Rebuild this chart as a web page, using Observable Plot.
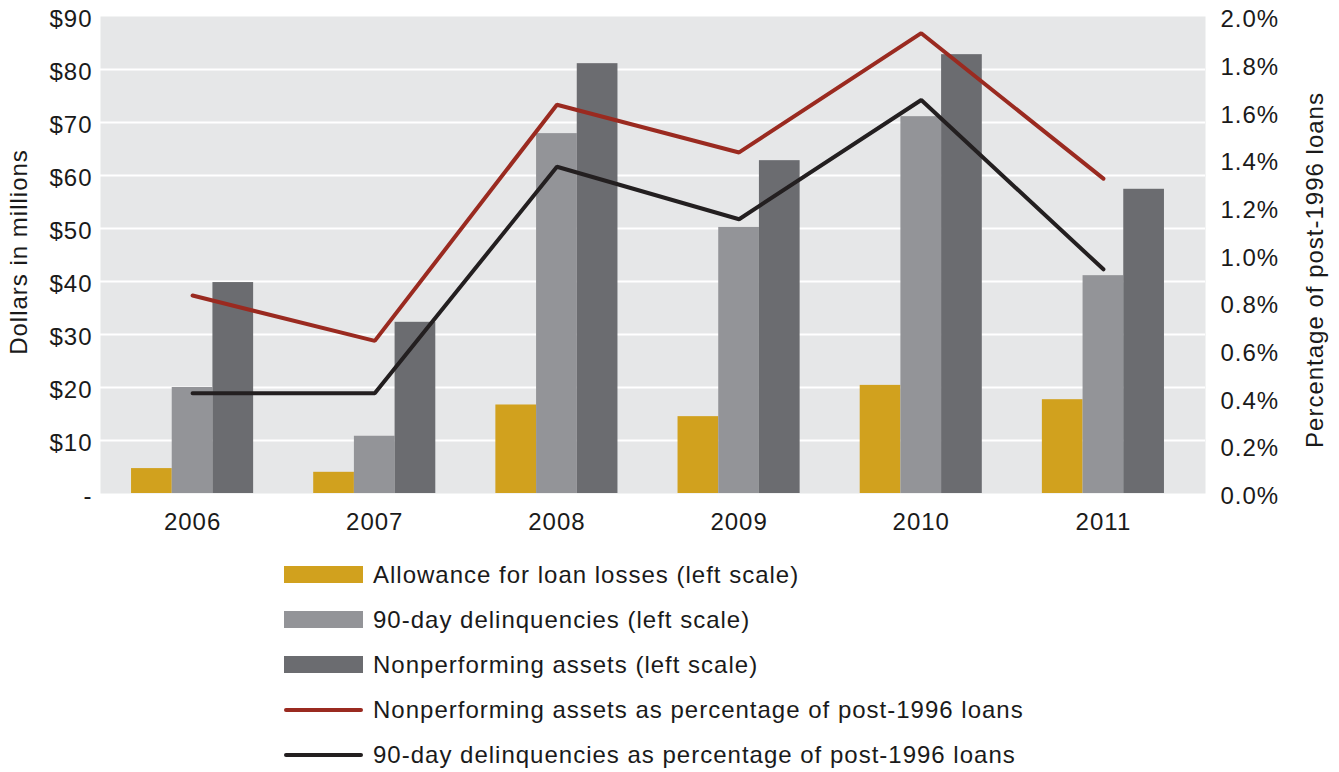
<!DOCTYPE html>
<html>
<head>
<meta charset="utf-8">
<script src="https://cdn.jsdelivr.net/npm/d3@7"></script>
<script src="https://cdn.jsdelivr.net/npm/@observablehq/plot@0.6"></script>
<style>
  body { margin: 0; background: #fff; font-family: "Liberation Sans", Arial, Helvetica, sans-serif; }
  #legend { margin-top: 7px; padding-left: 284px; }
  .row { display: flex; align-items: center; height: 45px; font-size: 24px; letter-spacing: 1px; color: #1a1a1a; }
  .sw { width: 79px; height: 17px; margin-right: 10px; flex: none; }
  .ln { width: 79px; height: 17px; margin-right: 10px; flex: none; display: flex; align-items: center; }
  .ln span { display: block; width: 79px; height: 4px; border-radius: 2px; }
</style>
</head>
<body>
<div id="chart"></div>
<div id="legend"></div>
<script>
// ---- data ----
const years = [2006, 2007, 2008, 2009, 2010, 2011];
const allowance = [4.7, 4.0, 16.7, 14.5, 20.4, 17.7];
const delinquencies = [20.0, 10.8, 67.9, 50.2, 71.1, 41.1];
const nonperforming = [39.8, 32.3, 81.1, 62.8, 82.8, 57.4];
const nonperfPct = [0.83, 0.64, 1.63, 1.43, 1.93, 1.32];
const delinqPct = [0.42, 0.42, 1.37, 1.15, 1.65, 0.94];
const leftTicks = [0, 10, 20, 30, 40, 50, 60, 70, 80, 90];
const rightTicks = [0, 0.2, 0.4, 0.6, 0.8, 1.0, 1.2, 1.4, 1.6, 1.8, 2.0];
const barSeries = [
  "Allowance for loan losses (left scale)",
  "90-day delinquencies (left scale)",
  "Nonperforming assets (left scale)"
];
const lineSeries = [
  "Nonperforming assets as percentage of post-1996 loans",
  "90-day delinquencies as percentage of post-1996 loans"
];
const barColors = ["#d1a11e", "#939498", "#6b6c70"];
const lineColors = ["#9a2a20", "#231f20"];

// ---- derived tables ----
const ratio = 90 / 2.0; // right axis maps 0–2.0% onto 0–$90
const barValues = [allowance, delinquencies, nonperforming];
const bars = [];
barValues.forEach((vals, i) => years.forEach((y, j) => bars.push({year: y, series: barSeries[i], i, value: vals[j]})));
const lines = [];
[nonperfPct, delinqPct].forEach((vals, i) => years.forEach((y, j) => lines.push({year: y, series: lineSeries[i], pct: vals[j]})));
const w = 0.2234; // bar width in year units

const chart = Plot.plot({
  width: 1339,
  height: 545,
  marginLeft: 100,
  marginRight: 134,
  marginTop: 16,
  marginBottom: 52,
  style: "font-family: 'Liberation Sans', Arial, Helvetica, sans-serif; font-size: 24px; letter-spacing: 1px; overflow: visible; background: #fff; color: #1a1a1a;",
  x: {type: "linear", domain: [2005.5, 2011.5], insetLeft: 1, insetRight: 11},
  y: {domain: [0, 90], label: null},
  color: {domain: [...barSeries, ...lineSeries], range: [...barColors, ...lineColors]},
  marks: [
    Plot.frame({fill: "#e6e7e8", stroke: null}),
    Plot.gridY(leftTicks.filter(d => d > 0 && d < 90), {stroke: "#fff", strokeOpacity: 1, strokeWidth: 2}),
    Plot.rectY(bars, {
      x1: d => d.year + (d.i - 1.5) * w,
      x2: d => d.year + (d.i - 0.5) * w,
      y: "value",
      fill: "series"
    }),
    Plot.line(lines, {
      x: "year",
      y: d => d.pct * ratio,
      z: "series",
      stroke: "series",
      strokeWidth: 4,
      strokeLinejoin: "miter",
      strokeLinecap: "round"
    }),
    Plot.axisY(leftTicks, {
      anchor: "left", tickSize: 0, tickPadding: 8, dy: 3, label: null,
      tickFormat: d => d === 0 ? "-" : "$" + d
    }),
    Plot.axisY(rightTicks.map(p => p * ratio), {
      anchor: "right", tickSize: 0, tickPadding: 15, dy: 3, label: null,
      tickFormat: d => (d / ratio).toFixed(1) + "%"
    }),
    Plot.axisX(years, {
      anchor: "bottom", tickSize: 0, tickPadding: 19, label: null,
      tickFormat: d => String(d)
    }),
    Plot.text(["Dollars in millions"], {frameAnchor: "left", textAnchor: "middle", rotate: -90, dx: -81, dy: -3}),
    Plot.text(["Percentage of post-1996 loans"], {frameAnchor: "right", textAnchor: "middle", rotate: -90, dx: 110, dy: 15})
  ]
});
document.getElementById("chart").append(chart);

// ---- legend ----
const legend = document.getElementById("legend");
barSeries.forEach((s, i) => {
  const r = document.createElement("div");
  r.className = "row";
  r.innerHTML = `<div class="sw" style="background:${barColors[i]}"></div><div>${s}</div>`;
  legend.append(r);
});
lineSeries.forEach((s, i) => {
  const r = document.createElement("div");
  r.className = "row";
  r.innerHTML = `<div class="ln"><span style="background:${lineColors[i]}"></span></div><div>${s}</div>`;
  legend.append(r);
});
</script>
</body>
</html>
